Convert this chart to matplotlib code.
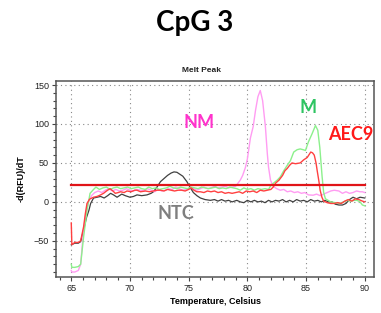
import matplotlib
matplotlib.use("Agg")
import matplotlib.pyplot as plt
from matplotlib.ticker import MultipleLocator

# melt peak curves
ntc_t = [65.0, 65.3, 65.6, 65.8, 66.05, 66.3, 66.5, 66.65, 66.9, 67.2,
         67.5, 67.8, 68.1, 68.35, 68.6, 68.9, 69.3, 69.6, 70.0, 70.3,
         70.6, 71.0, 71.45, 71.8, 72.0, 72.3, 72.6, 72.9, 73.2, 73.5,
         73.75, 74.0, 74.2, 74.5, 74.85, 75.15, 75.4, 75.7, 76.0, 76.4,
         76.85, 77.2, 77.5, 77.8, 78.1, 78.4, 78.7, 79.1, 79.4, 79.7,
         80.0, 80.3, 80.6, 80.9, 81.2, 81.5, 81.8, 82.1, 82.4, 82.7,
         83.0, 83.3, 83.6, 83.9, 84.2, 84.5, 84.8, 85.1, 85.4, 85.7,
         86.0, 86.3, 86.6, 86.9, 87.2, 87.5, 87.8, 88.1, 88.4, 88.7,
         89.0, 89.3, 89.6, 90.0]
ntc_v = [-55, -53, -53, -51, -36, -20, -11, -2, 5, 6,
         7, 5, 8, 11, 9, 6, 10, 8, 6, 7,
         9, 8, 9, 11, 13, 19, 26, 30, 34, 37,
         38.5, 38, 36, 33, 26, 18, 12, 8, 5, 3,
         2, 3, 1, 3, 1, 2, 0, 2, 0, -1,
         2, 0, 2, 0, 1, -1, 2, 0, 2, 1,
         3, 0, 2, 0, 3, 1, 2, 0, 3, 1,
         2, 0, 2, 0, 0, -3, -4, -4, -2, 3,
         6, 4, 6, 5]

aec9_t = [65.0, 65.05, 65.3, 65.6, 65.8, 66.05, 66.2, 66.34, 66.56, 66.9,
          67.2, 67.5, 67.75, 68.0, 68.3, 68.55, 68.75, 69.0, 69.2, 69.5,
          69.75, 70.1, 70.4, 70.6, 70.9, 71.3, 71.7, 72.0, 72.3, 72.6,
          72.9, 73.2, 73.5, 73.8, 74.1, 74.4, 74.7, 75.0, 75.2, 75.45,
          75.7, 76.0, 76.3, 76.6, 76.9, 77.2, 77.5, 77.8, 78.1, 78.4,
          78.7, 79.0, 79.3, 79.6, 79.9, 80.2, 80.5, 80.8, 81.1, 81.4,
          81.7, 82.0, 82.2, 82.4, 82.7, 83.0, 83.2, 83.4, 83.6, 83.8,
          84.1, 84.5, 84.8, 85.1, 85.4, 85.55, 85.7, 85.85, 85.95, 86.1,
          86.2, 86.35, 86.5, 86.8, 87.1, 87.4, 87.7, 88.0, 88.3, 88.6,
          88.9, 89.2, 89.5, 89.8, 90.0]
aec9_v = [-27, -55, -52, -52, -50, -32, -15, -2, 3.5, 6,
          7, 9, 11, 14, 17, 14, 11, 12, 13, 12,
          14, 13, 15, 15, 13, 14, 13, 14, 15, 15,
          14, 16, 15, 14, 15, 15, 14, 16, 18, 15,
          13, 13, 12, 14, 13, 14, 12, 13, 11, 12,
          11, 12, 13, 11, 14, 13, 14, 12, 15, 14,
          15, 16, 19, 24, 28, 34, 40, 43, 47, 50,
          49, 50, 54, 57, 64, 63, 60, 50, 40, 26,
          15, 6, 1, -1, -2, -2, -1, -2, 1, 3,
          1, 4, 3, 1, 0]

m_t = [65.0, 65.05, 65.3, 65.6, 65.8, 66.05, 66.34, 66.6, 66.9, 67.1,
       67.4, 67.7, 68.0, 68.3, 68.6, 68.9, 69.2, 69.5, 69.8, 70.1,
       70.4, 70.7, 71.0, 71.3, 71.6, 71.9, 72.2, 72.5, 72.8, 73.1,
       73.4, 73.7, 74.0, 74.3, 74.6, 74.9, 75.2, 75.5, 75.8, 76.1,
       76.4, 76.7, 77.0, 77.3, 77.6, 77.9, 78.2, 78.5, 78.8, 79.1,
       79.4, 79.7, 80.0, 80.3, 80.6, 80.9, 81.2, 81.5, 81.8, 82.0,
       82.3, 82.55, 82.8, 83.1, 83.4, 83.67, 83.95, 84.24, 84.5, 84.75,
       84.95, 85.2, 85.5, 85.8, 86.0, 86.17, 86.37, 86.5, 86.65, 87.1,
       87.5, 87.9, 88.2, 88.5, 88.8, 89.1, 89.35, 89.6, 89.8, 90.0]
m_v = [-80, -84, -84, -83, -80, -45, -11, 11, 16, 19,
       16, 18, 19, 16, 18, 19, 17, 18, 19, 17,
       18, 19, 17, 16, 19, 17, 18, 16, 17, 18,
       20, 18, 17, 19, 18, 17, 19, 18, 17, 19,
       18, 17, 18, 19, 17, 18, 17, 19, 18, 17,
       15, 18, 16, 17, 15, 17, 16, 17, 16, 21,
       25, 28, 32, 40, 47, 53, 64, 67, 68, 67,
       66, 77, 87, 98, 92, 70, 32, 12, 4, 0,
       -1, -2, 0, 2, 1, 2, 2, 0, -4, -5]

nm_t = [65.0, 65.05, 65.3, 65.6, 65.8, 66.05, 66.3, 66.5, 66.76, 67.0,
        67.3, 67.6, 67.9, 68.2, 68.5, 68.8, 69.1, 69.4, 69.7, 70.0,
        70.3, 70.6, 70.9, 71.2, 71.5, 71.8, 72.1, 72.4, 72.7, 73.0,
        73.3, 73.6, 73.9, 74.2, 74.5, 74.8, 75.1, 75.4, 75.7, 76.0,
        76.3, 76.6, 76.9, 77.2, 77.5, 77.8, 78.1, 78.4, 78.7, 79.0,
        79.2, 79.4, 79.6, 79.83, 80.0, 80.26, 80.5, 80.7, 80.9, 81.1,
        81.3, 81.54, 81.7, 81.8, 81.97, 82.2, 82.5, 82.8, 83.1, 83.4,
        83.7, 84.0, 84.3, 84.6, 84.9, 85.2, 85.6, 85.9, 86.2, 86.5,
        86.8, 87.1, 87.4, 87.8, 88.1, 88.4, 88.7, 89.0, 89.3, 89.6,
        89.8, 90.0]
nm_v = [-88, -90, -90, -88, -80, -35, -10, 2, 8.6, 12,
        14, 12, 15, 17, 14, 16, 14, 15, 17, 15,
        14, 16, 15, 14, 17, 15, 13, 16, 14, 15,
        17, 16, 19, 17, 15, 16, 18, 17, 15, 17,
        19, 17, 18, 20, 18, 19, 20, 18, 19, 20,
        24, 28, 34, 44, 55, 82, 97, 118, 135, 143,
        130, 96, 62, 45, 28, 20, 17, 15, 16, 13,
        14, 12, 13, 11, 12, 9, 8.6, 10, 8, 10,
        12, 14, 15, 14, 11, 13, 11, 12, 14, 13,
        13, 12]

threshold = 22
threshold_t = [65.0, 90.0]

xticks = [65, 70, 75, 80, 85, 90]
yticks = [-50, 0, 50, 100, 150]

fig = plt.figure(figsize=(3.81, 3.13), dpi=100)
ax = fig.add_axes([0.147, 0.116, 0.835, 0.626])

ax.plot(ntc_t, ntc_v, color='#404040', lw=0.9)
ax.plot(nm_t, nm_v, color='#ff9cf2', lw=1.0)
ax.plot(m_t, m_v, color='#8cf08c', lw=1.0)
ax.plot(aec9_t, aec9_v, color='#ff4040', lw=1.0)
ax.plot(threshold_t, [threshold, threshold], color='#e01418', lw=1.6)

ax.set_xlim(63.7, 90.8)
ax.set_ylim(-96, 155.5)
ax.set_xticks(xticks)
ax.set_yticks(yticks)
ax.xaxis.set_minor_locator(MultipleLocator(1))
ax.yaxis.set_minor_locator(MultipleLocator(10))
ax.grid(True, which='major', color='#888888', linestyle=(0, (1, 3)), lw=0.8)
ax.tick_params(which='both', direction='out', color='#444444', width=0.8,
               labelsize=6.5, labelcolor='#222222', pad=2)
ax.tick_params(which='major', length=3)
ax.tick_params(which='minor', length=2)
for tl in ax.get_xticklabels() + ax.get_yticklabels():
    tl.set_family('Liberation Sans')
for s in ax.spines.values():
    s.set_color('#555555')
    s.set_linewidth(1.1)

ax.set_xlabel('Temperature, Celsius', fontsize=6.5, fontweight='bold',
              family='Liberation Sans', labelpad=3)
ax.set_ylabel('-d(RFU)/dT', fontsize=6.5, fontweight='bold',
              family='Liberation Sans', labelpad=6)

lab = dict(fontsize=13, fontweight='bold', family='Lato', ha='center', va='center')
ax.text(75.9, 101.5, 'NM', color='#ff33cc', **lab)
ax.text(85.2, 120.8, 'M', color='#2ec462', **lab)
ax.text(88.8, 86.8, 'AEC9', color='#ff1a1a', **lab)
ax.text(73.9, -14.5, 'NTC', color='#7f7f7f', **lab)

fig.text(0.512, 0.927, 'CpG 3', fontsize=20, fontweight='bold', family='Lato',
         ha='center', va='center')
fig.text(0.529, 0.776, 'Melt Peak', fontsize=6, fontweight='bold',
         family='Liberation Sans', ha='center', va='center', color='#222222')

fig.savefig('out.png', dpi=100)
